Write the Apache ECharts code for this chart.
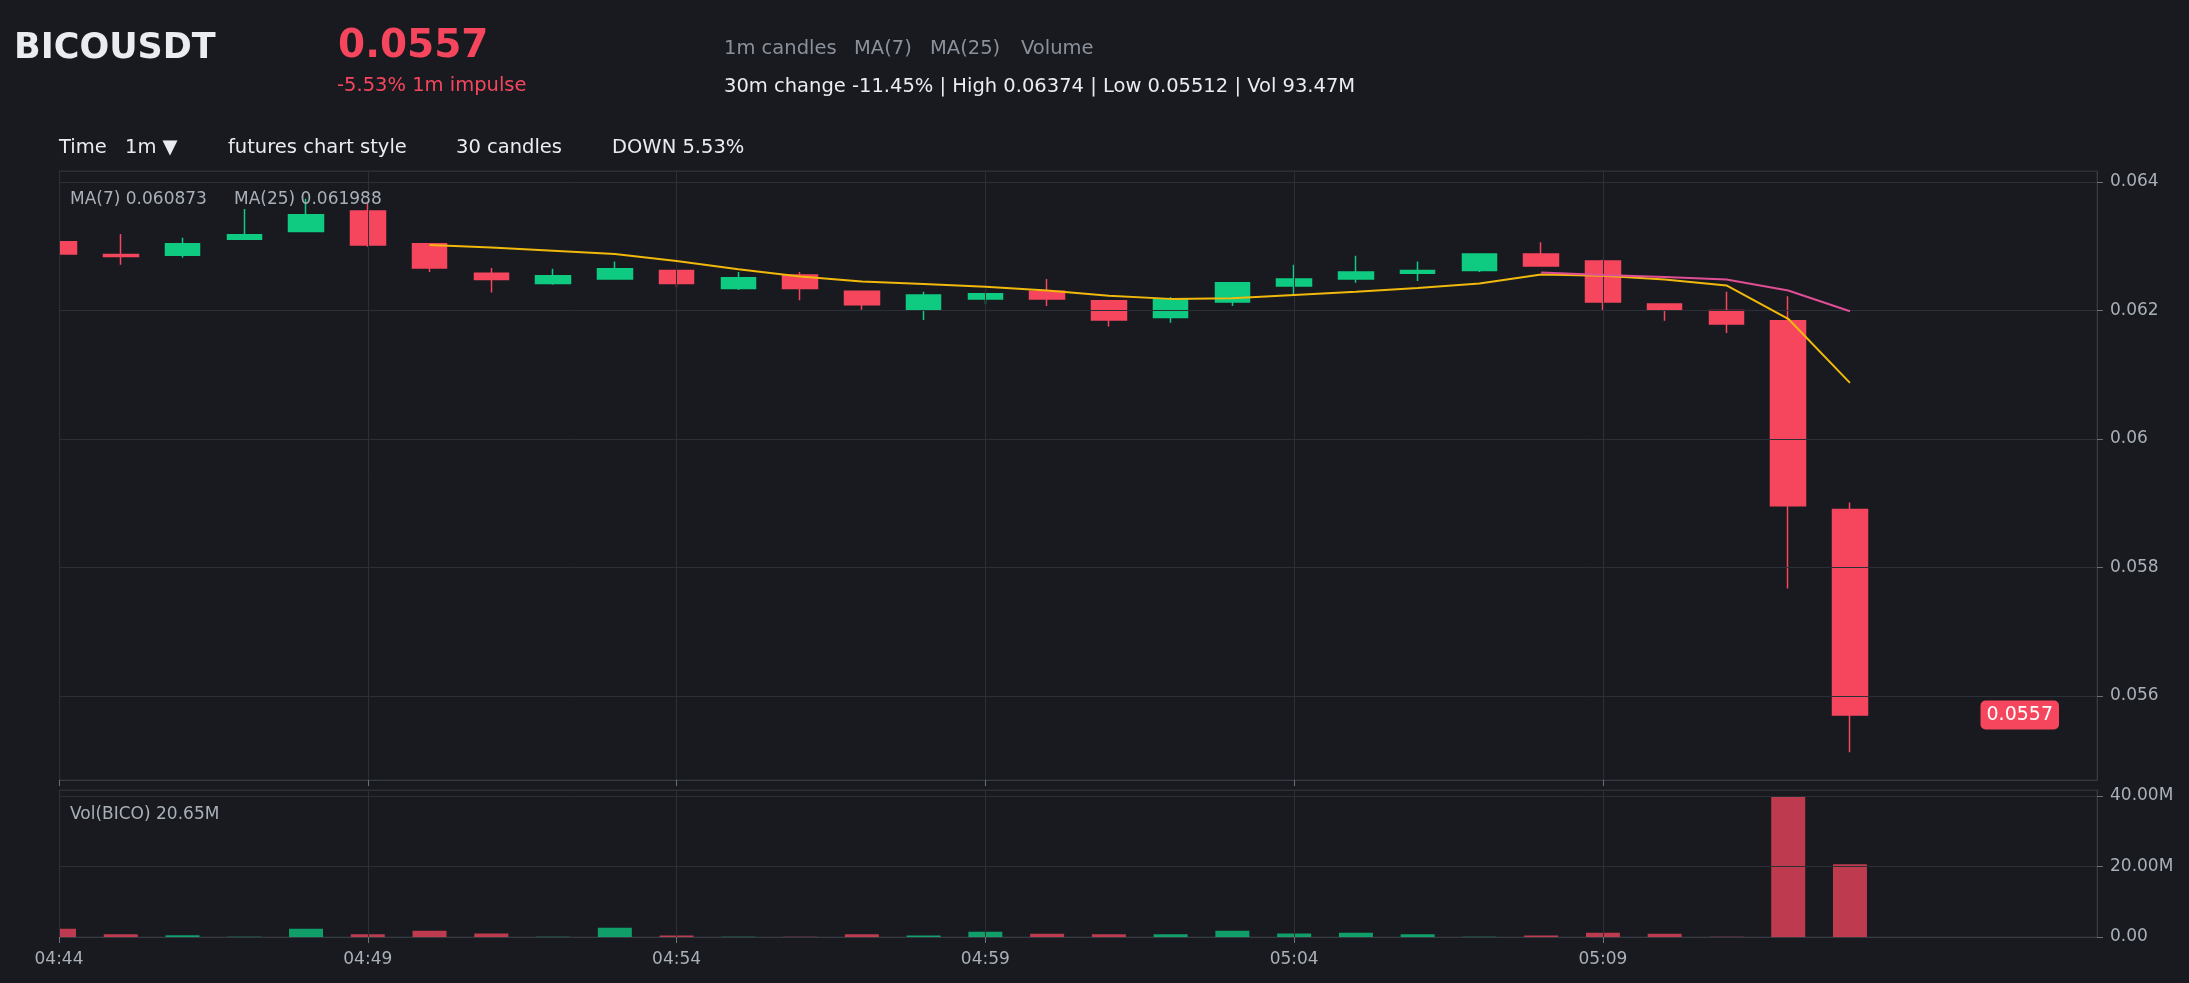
<!DOCTYPE html>
<html><head><meta charset="utf-8">
<script src="https://cdn.jsdelivr.net/npm/echarts@6/dist/echarts.min.js"></script>
<style>html,body{margin:0;padding:0;background:#181a20;}#c{width:2189px;height:983px;}</style>
</head><body><div id="c"></div>
<script>
const categories = ['04:44','04:45','04:46','04:47','04:48','04:49','04:50','04:51','04:52','04:53',
  '04:54','04:55','04:56','04:57','04:58','04:59','05:00','05:01','05:02','05:03',
  '05:04','05:05','05:06','05:07','05:08','05:09','05:10','05:11','05:12','05:13'];
const openP  = [0.06307,0.06287,0.06286,0.06311,0.06323,0.06355,0.06304,0.06258,0.06242,0.06249,
  0.06262,0.06234,0.06255,0.06230,0.06201,0.06218,0.06230,0.06215,0.06189,0.06213,
  0.06238,0.06249,0.06258,0.06262,0.06288,0.06277,0.06210,0.06200,0.06184,0.05890];
const closeP = [0.06288,0.06284,0.06304,0.06318,0.06349,0.06302,0.06266,0.06248,0.06254,0.06265,
  0.06242,0.06251,0.06234,0.06209,0.06224,0.06226,0.06218,0.06185,0.06218,0.06243,
  0.06249,0.06260,0.06262,0.06288,0.06269,0.06213,0.06201,0.06179,0.05896,0.05570];
const highP  = [0.06308,0.06319,0.06313,0.06358,0.06374,0.06367,0.06304,0.06266,0.06265,0.06276,
  0.06262,0.06260,0.06260,0.06231,0.06229,0.06227,0.06249,0.06215,0.06221,0.06244,
  0.06271,0.06285,0.06276,0.06289,0.06306,0.06279,0.06210,0.06229,0.06222,0.05901];
const lowP   = [0.06287,0.06271,0.06282,0.06310,0.06322,0.06299,0.06260,0.06228,0.06240,0.06248,
  0.06236,0.06232,0.06216,0.06201,0.06185,0.06210,0.06207,0.06175,0.06181,0.06207,
  0.06224,0.06243,0.06246,0.06260,0.06268,0.06200,0.06184,0.06165,0.05767,0.05512];
const ma7  = [null,null,null,null,null,null,0.06302,0.06298,0.06293,0.06288,
  0.06277,0.06264,0.06253,0.06245,0.06241,0.06237,0.06231,0.06223,0.06218,0.06219,
  0.06224,0.06229,0.06235,0.06242,0.06256,0.06254,0.06248,0.06239,0.06187,0.060873];
const ma25 = [null,null,null,null,null,null,null,null,null,null,
  null,null,null,null,null,null,null,null,null,null,
  null,null,null,null,0.06259,0.06255,0.06252,0.06248,0.06231,0.061988];
const volumeM = [2.36,0.75,0.5,0.1,2.36,0.75,1.8,1.0,0.1,2.65,
  0.4,0.1,0.05,0.75,0.45,1.5,0.95,0.75,0.75,1.8,
  1.0,1.2,0.75,0.1,0.4,1.2,0.95,0.1,39.7,20.65];
const padSlots = ['','','',''];

const UP = '#0ecb81', DOWN = '#f6465d', BG = '#181a20';
const FONT = 'DejaVu Sans';
const GRIDC = '#2b2f36', AXC = '#363a42', TICKC = '#6b717a', LABC = '#aab0b8';
const xData = categories.concat(padSlots);
const every5 = (i, v) => i % 5 === 0 && v !== '';

const candleData = categories.map((c, i) => [openP[i], closeP[i], lowP[i], highP[i]]);
const volData = categories.map((c, i) => ({
  value: volumeM[i],
  itemStyle: { color: closeP[i] >= openP[i] ? UP : DOWN, opacity: 0.75 }
}));
const last = categories.length - 1;

const chart = echarts.init(document.getElementById('c'));
const txt = (x, y, text, size, color, weight) => ({
  type: 'text', x: x, y: y, z: 100,
  style: { text: text, fill: color, fontSize: size, fontWeight: weight || 'normal',
    fontFamily: FONT, verticalAlign: 'middle', align: 'left' }
});

chart.setOption({
  backgroundColor: BG,
  animation: false,
  textStyle: { fontFamily: FONT },
  grid: [
    { left: 59, top: 171, width: 2038, height: 609, show: true, borderColor: GRIDC, borderWidth: 1, backgroundColor: 'transparent' },
    { left: 59, top: 790, width: 2038, height: 147, show: true, borderColor: GRIDC, borderWidth: 1, backgroundColor: 'transparent' }
  ],
  xAxis: [
    { type: 'category', gridIndex: 0, data: xData, boundaryGap: false, z: 4,
      axisLine: { show: true, lineStyle: { color: AXC } },
      axisTick: { show: true, length: 6, interval: every5, lineStyle: { color: TICKC } },
      axisLabel: { show: false, interval: every5 },
      splitLine: { show: true, interval: every5, lineStyle: { color: GRIDC, width: 1 } } },
    { type: 'category', gridIndex: 1, data: xData, boundaryGap: false, z: 4,
      axisLine: { show: true, lineStyle: { color: AXC } },
      axisTick: { show: true, length: 6, interval: every5, lineStyle: { color: TICKC } },
      axisLabel: { show: true, interval: every5, color: LABC, fontSize: 17, fontFamily: FONT, margin: 14 },
      splitLine: { show: true, interval: every5, lineStyle: { color: GRIDC, width: 1 } } }
  ],
  yAxis: [
    { type: 'value', gridIndex: 0, position: 'right', scale: true, splitNumber: 5, z: 4,
      min: v => v.min - (v.max - v.min) * 0.05,
      max: v => v.max + (v.max - v.min) * 0.05,
      axisLine: { show: true, lineStyle: { color: AXC } },
      axisTick: { show: true, length: 6, lineStyle: { color: TICKC } },
      axisLabel: { color: LABC, fontSize: 17, fontFamily: FONT, margin: 13, padding: [3, 0, 0, 0],
        showMinLabel: false, showMaxLabel: false },
      splitLine: { show: true, lineStyle: { color: GRIDC, width: 1 } } },
    { type: 'value', gridIndex: 1, position: 'right', min: 0, max: v => v.max * 1.05, interval: 20, z: 4,
      axisLine: { show: true, lineStyle: { color: AXC } },
      axisTick: { show: true, length: 6, lineStyle: { color: TICKC } },
      axisLabel: { color: LABC, fontSize: 17, fontFamily: FONT, margin: 13, padding: [3, 0, 0, 0], showMaxLabel: false,
        formatter: v => v === 0 ? '0.00' : v.toFixed(2) + 'M' },
      splitLine: { show: true, lineStyle: { color: GRIDC, width: 1 } } }
  ],
  series: [
    { type: 'candlestick', name: 'BICOUSDT', xAxisIndex: 0, yAxisIndex: 0, z: 2, clip: true,
      barWidth: 35, data: candleData,
      itemStyle: { color: UP, color0: DOWN, borderColor: UP, borderColor0: DOWN, borderWidth: 1.5 },
      markLine: {
        silent: true, symbol: ['none', 'none'], z: 10, animation: false, precision: 6,
        lineStyle: { color: 'rgba(0,0,0,0)', width: 1, type: 'solid' },
        label: { show: true, position: 'insideEnd', distance: 38,
          formatter: () => closeP[last].toFixed(4),
          color: '#ffffff', backgroundColor: DOWN, borderRadius: 5, padding: [5, 6],
          fontSize: 19, fontFamily: FONT },
        emphasis: { disabled: true },
        data: [{ yAxis: closeP[last] }]
      } },
    { type: 'line', name: 'MA(7)', xAxisIndex: 0, yAxisIndex: 0, z: 6, data: ma7,
      showSymbol: false, symbol: 'none', smooth: false,
      lineStyle: { color: '#f0b90b', width: 2 } },
    { type: 'line', name: 'MA(25)', xAxisIndex: 0, yAxisIndex: 0, z: 6, data: ma25,
      showSymbol: false, symbol: 'none', smooth: false,
      lineStyle: { color: '#e04f96', width: 2 } },
    { type: 'bar', name: 'Volume', xAxisIndex: 1, yAxisIndex: 1, z: 2, clip: true, barWidth: 34, data: volData }
  ],
  graphic: [
    { type: 'rect', left: 0, top: 165, z: 3, silent: true,
      shape: { width: 59, height: 775 }, style: { fill: BG } },
    txt(14, 49, 'BICOUSDT', 35, '#eaecef', 'bold'),
    txt(338, 47, closeP[last].toFixed(4), 39, DOWN, 'bold'),
    txt(337, 86, '-5.53% 1m impulse', 19.5, DOWN),
    txt(724, 49, '1m candles', 19.5, '#8a919b'),
    txt(854, 49, 'MA(7)', 19.5, '#8a919b'),
    txt(930, 49, 'MA(25)', 19.5, '#8a919b'),
    txt(1021, 49, 'Volume', 19.5, '#8a919b'),
    txt(724, 87, '30m change -11.45% | High 0.06374 | Low 0.05512 | Vol 93.47M', 19.5, '#eaecef'),
    txt(59, 148, 'Time', 19.5, '#eaecef'),
    txt(125, 148, '1m ▼', 19.5, '#eaecef'),
    txt(228, 148, 'futures chart style', 19.5, '#eaecef'),
    txt(456, 148, '30 candles', 19.5, '#eaecef'),
    txt(612, 148, 'DOWN 5.53%', 19.5, '#eaecef'),
    txt(70, 200, 'MA(7) ' + ma7[last], 17, LABC),
    txt(234, 200, 'MA(25) ' + ma25[last], 17, LABC),
    txt(70, 815, 'Vol(BICO) ' + volumeM[last].toFixed(2) + 'M', 17, LABC)
  ]
});
</script></body></html>
